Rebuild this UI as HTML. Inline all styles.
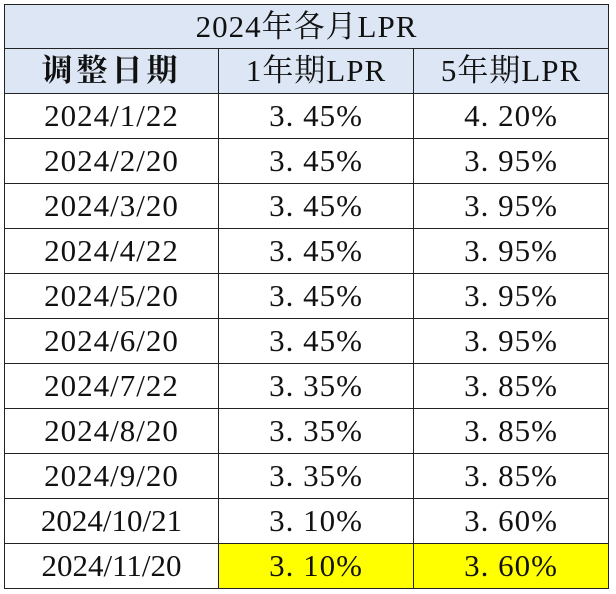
<!DOCTYPE html>
<html><head><meta charset="utf-8"><style>
body{margin:0;width:616px;height:594px;background:#fff;overflow:hidden}
table{position:absolute;left:4px;top:4px;border-collapse:collapse;table-layout:fixed;font-family:"Liberation Serif","Noto Serif CJK SC",serif;color:#111}
tr{height:45px}
td{border:1.5px solid #222;text-align:center;font-size:31px;padding:0;letter-spacing:1px;line-height:40px;box-sizing:border-box}
.h td{background:#dce6f4}
.y{background:#ffff00}
</style></head><body>
<table>
<colgroup><col style="width:214px"><col style="width:195px"><col style="width:195px"></colgroup>
<tr class="h" style="height:44px"><td colspan="3">2024年各月LPR</td></tr>
<tr class="h"><td style="font-weight:bold;letter-spacing:4px">调整日期</td><td>1年期LPR</td><td>5年期LPR</td></tr>
<tbody id="rows"></tbody>
</table>
<script>
const dates=["2024/1/22","2024/2/20","2024/3/20","2024/4/22","2024/5/20","2024/6/20","2024/7/22","2024/8/20","2024/9/20","2024/10/21","2024/11/20"];
const lpr1=[3.45,3.45,3.45,3.45,3.45,3.45,3.35,3.35,3.35,3.10,3.10];
const lpr5=[4.20,3.95,3.95,3.95,3.95,3.95,3.85,3.85,3.85,3.60,3.60];
const tb=document.getElementById('rows');
const fmt=v=>v.toFixed(2).replace('.','. ')+'%';
dates.forEach((d,i)=>{
const tr=document.createElement('tr');


const last=i===dates.length-1;
[d,fmt(lpr1[i]),fmt(lpr5[i])].forEach((t,j)=>{
const td=document.createElement('td');


td.textContent=t;
if(j===0&&t.length>9)td.style.letterSpacing='0px';
if(last&&j>0)td.className='y';
tr.appendChild(td);});
tb.appendChild(tr);});
</script>
</body></html>
